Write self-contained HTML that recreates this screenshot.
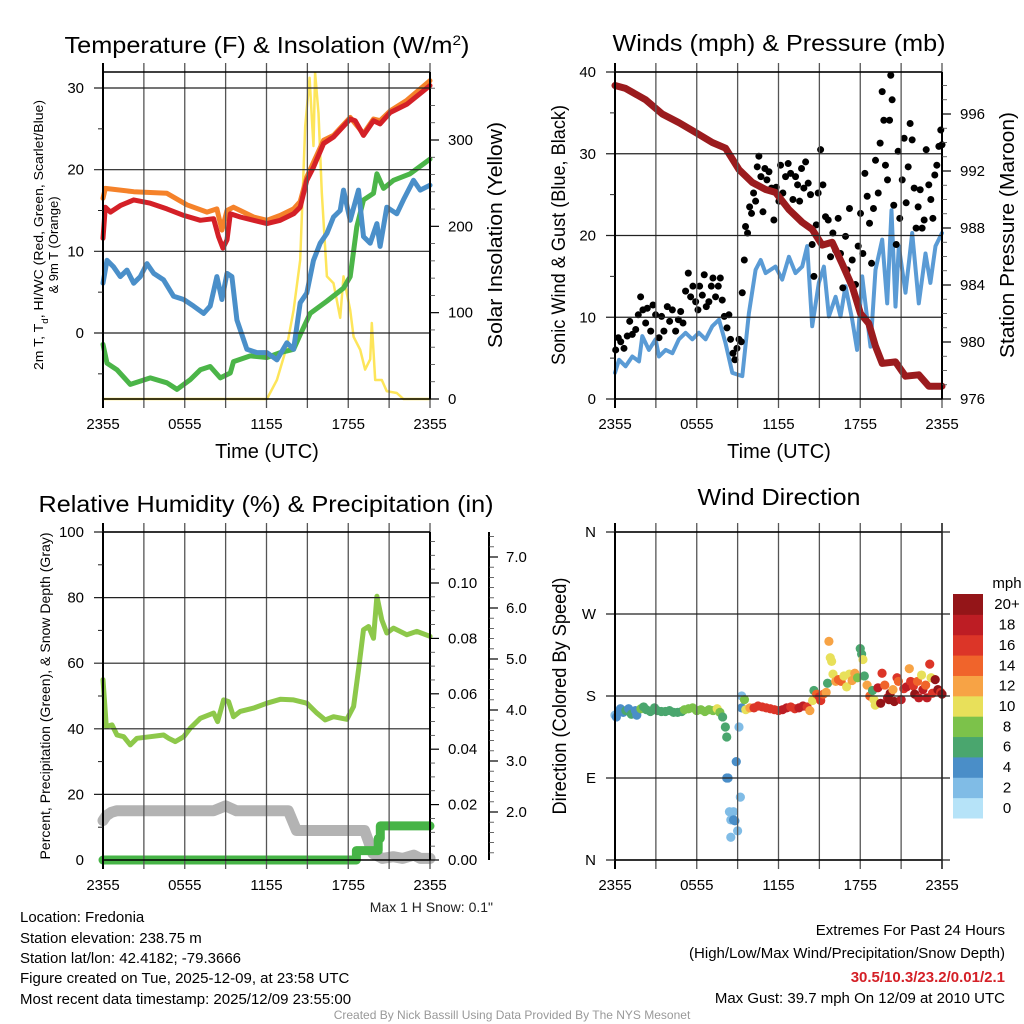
<!DOCTYPE html>
<html><head><meta charset="utf-8"><title>Fredonia Mesonet Meteogram</title>
<style>
html,body{margin:0;padding:0;background:#fff;}
svg{display:block;font-family:"Liberation Sans",Arial,sans-serif;}
</style></head>
<body>
<svg id="chart" xmlns="http://www.w3.org/2000/svg" width="1024" height="1024" viewBox="0 0 1024 1024">
<rect x="0" y="0" width="1024" height="1024" fill="#fff"/>
<g id="marks"></g>
<g id="axes"></g>

<text x="267" y="53" font-size="23" text-anchor="middle" textLength="405" lengthAdjust="spacingAndGlyphs">Temperature (F) &amp; Insolation (W/m<tspan baseline-shift="super" font-size="14">2</tspan>)</text>
<text x="779" y="51" font-size="23" text-anchor="middle" textLength="333" lengthAdjust="spacingAndGlyphs">Winds (mph) &amp; Pressure (mb)</text>
<text x="266" y="512" font-size="23" text-anchor="middle" textLength="455" lengthAdjust="spacingAndGlyphs">Relative Humidity (%) &amp; Precipitation (in)</text>
<text x="779" y="505" font-size="23" text-anchor="middle" textLength="163" lengthAdjust="spacingAndGlyphs">Wind Direction</text>

<text x="267" y="458" font-size="20" text-anchor="middle">Time (UTC)</text>
<text x="779" y="458" font-size="20" text-anchor="middle">Time (UTC)</text>

<text transform="translate(43,235) rotate(-90)" font-size="13" text-anchor="middle" textLength="270" lengthAdjust="spacingAndGlyphs">2m T, T<tspan baseline-shift="sub" font-size="9">d</tspan>, HI/WC (Red, Green, Scarlet/Blue)</text>
<text transform="translate(58,245) rotate(-90)" font-size="13" text-anchor="middle">&amp; 9m T (Orange)</text>
<text transform="translate(502,235) rotate(-90)" font-size="20" text-anchor="middle" textLength="226" lengthAdjust="spacingAndGlyphs">Solar Insolation (Yellow)</text>
<text transform="translate(565,235) rotate(-90)" font-size="19" text-anchor="middle" textLength="260" lengthAdjust="spacingAndGlyphs">Sonic Wind &amp; Gust (Blue, Black)</text>
<text transform="translate(1014,235) rotate(-90)" font-size="20" text-anchor="middle" textLength="246" lengthAdjust="spacingAndGlyphs">Station Pressure (Maroon)</text>
<text transform="translate(50,696) rotate(-90)" font-size="14" text-anchor="middle" textLength="327" lengthAdjust="spacingAndGlyphs">Percent, Precipitation (Green), &amp; Snow Depth (Gray)</text>
<text transform="translate(566,696) rotate(-90)" font-size="19" text-anchor="middle" textLength="237" lengthAdjust="spacingAndGlyphs">Direction (Colored By Speed)</text>

<text x="493" y="912" font-size="14" text-anchor="end" fill="#222">Max 1 H Snow: 0.1"</text>
<g font-size="15" fill="#000">
<text x="20" y="922">Location: Fredonia</text>
<text x="20" y="943">Station elevation: 238.75 m</text>
<text x="20" y="963">Station lat/lon: 42.4182; -79.3666</text>
<text x="20" y="983">Figure created on Tue, 2025-12-09, at 23:58 UTC</text>
<text x="20" y="1004">Most recent data timestamp: 2025/12/09 23:55:00</text>
</g>
<g font-size="15" text-anchor="end">
<text x="1005" y="935">Extremes For Past 24 Hours</text>
<text x="1005" y="958">(High/Low/Max Wind/Precipitation/Snow Depth)</text>
<text x="1005" y="982" fill="#d42027" font-weight="bold">30.5/10.3/23.2/0.01/2.1</text>
<text x="1005" y="1003">Max Gust: 39.7 mph On 12/09 at 2010 UTC</text>
</g>
<text x="512" y="1019" font-size="12" fill="#999" text-anchor="middle">Created By Nick Bassill Using Data Provided By The NYS Mesonet</text>
</svg>
<script>
// ---------- DATA (hours since 2355 UTC) ----------
const xTickLabels = ["2355","0555","1155","1755","2355"];
const tempTicks = [0,10,20,30];
const insolTicks = [0,100,200,300];
const windTicks = [0,10,20,30,40];
const presTicks = [976,980,984,988,992,996];
const rhTicks = [0,20,40,60,80,100];
const precipTicks = [0.00,0.02,0.04,0.06,0.08,0.10];
const snowTicks = [2.0,3.0,4.0,5.0,6.0,7.0];
const dirTicks = [0,90,180,270,360];
const dirTickLabels = ["N","E","S","W","N"];

const tHours = [0,0.17,0.54,1.27,2.25,3.47,4.69,5.92,7.14,8.12,8.48,8.8,9.1,9.34,10.07,11.05,12.03,13.01,13.99,14.47,14.96,15.45,16.19,16.92,18.14,18.51,19.12,19.85,20.34,21.08,22.3,24];
const tempRed = [11.6,15.4,14.8,15.6,16.3,15.9,15.2,14.4,13.8,14,11.8,10.4,11.4,14.6,14.2,13.8,13.4,13.8,14.6,15.4,18.7,20.3,23.2,24,26.2,26,24.2,26,25.6,27,28,30.3];
const oHours = [0,0.17,2.25,4.69,6.16,7.63,8.36,8.73,9.1,9.58,11.05,12.03,13.01,13.99,14.47,14.96,15.45,16.19,16.92,18.14,19.12,19.85,20.34,21.08,22.3,24];
const temp9m = [16.5,17.7,17.3,17.1,15.7,14.8,15.2,12.6,15,15.4,14.2,13.8,14.4,15.2,16.1,19.1,20.9,23.6,24.2,26.4,24.4,26.2,26,27.2,28.5,30.9];
const dHours = [0,0.29,0.78,1.27,1.76,2.25,2.74,3.23,3.72,4.45,5.18,5.92,6.65,7.38,7.87,8.36,8.73,9.1,9.46,9.83,10.56,11.3,12.03,12.76,13.5,13.99,14.47,14.96,15.45,15.94,16.43,16.92,17.41,17.65,18.14,18.75,19.12,19.61,20.1,20.34,20.83,21.56,22.05,22.79,23.28,24];
const dewpoint = [6.1,8.9,8.1,6.9,7.7,6.1,6.9,8.5,7.3,6.5,4.5,4.1,3.3,2.4,3.3,6.9,4.1,7.3,6.9,1.6,-2,-2.4,-2.4,-3.3,-1.2,-2,3.7,4.9,8.9,11,12.2,14.2,15,17.5,13.8,17.5,11.8,11,13.4,10.6,15.4,14.6,16.3,18.7,17.5,18.1];
const wcHours = [0,0.29,1.03,2.0,3.47,4.69,5.43,6.41,7.14,7.87,8.61,9.34,9.58,10.81,12.03,13.01,13.99,14.47,15.21,16.43,17.65,18.14,18.63,19.12,19.85,20.1,20.59,21.32,22.54,24];
const windChill = [-1.4,-3.7,-4.5,-6.3,-5.5,-6.1,-6.9,-5.7,-4.5,-4.1,-5.5,-4.9,-3.5,-2.8,-3,-2.4,-2,-0.2,2.4,3.9,5.5,6.9,13,16.3,17.1,19.5,17.7,18.7,19.5,21.3];
const sHours = [0,12.03,12.76,13.5,13.99,14.47,14.84,15.16,15.33,15.45,15.57,15.82,16.06,16.43,16.92,17.41,17.65,18.14,18.39,18.88,19.24,19.61,19.73,19.98,20.46,20.83,21.56,22.05,24];
const insolation = [0,0,22,61,103,161,316,372,324,293,378,331,239,142,134,94,142,103,72,57,34,46,88,22,22,9,7,0,0];

const pHours = [0,0.78,2.25,3.47,4.69,5.92,7.14,8.12,9.1,10.07,11.05,11.78,12.76,13.74,14.47,15.21,15.94,16.67,17.41,18.02,18.63,19.12,19.61,20.59,21.32,22.3,23.03,24];
const pressure = [998.0,997.8,997.0,996.0,995.4,994.7,994,993.6,992.1,991.2,990.7,990.5,989.3,988.4,987.9,986.8,987,985.5,983.9,982,981.3,979.7,978.5,978.6,977.6,977.7,976.9,976.9];
const wHours = [0,0.29,0.78,1.27,1.76,2.0,2.49,2.98,3.23,3.72,4.21,4.69,5.18,5.67,6.16,6.65,7.14,7.63,8.12,8.61,9.34,9.83,10.32,10.69,11.05,11.78,12.27,12.76,13.25,13.74,14.11,14.47,14.96,15.33,15.7,16.19,16.55,16.92,17.41,17.77,18.14,18.75,19.12,19.61,19.98,20.29,20.59,20.83,21.32,21.81,22.3,22.79,23.15,23.52,24];
const windSpeed = [3.2,4.8,4,5.2,4.6,7.7,6,7.3,5.2,6,5.6,7.3,8.1,7.3,8.1,7.3,8.9,9.7,6.8,3.2,2.8,10.5,15.8,17,15.4,16.2,14.6,17.4,15.4,16.2,18.7,8.9,14.2,16.2,10.1,12.5,10.1,13.8,9.7,6,15,6.4,15.8,19.5,11.7,23.1,11.3,18.7,13,20.3,11.7,17.8,14.2,18.7,20.3];
const gHours = [0.05,0.24,0.42,0.66,0.9,1.08,1.27,1.52,1.71,1.88,2.05,2.25,2.37,2.62,2.79,2.98,3.23,3.42,3.59,3.84,4.01,4.21,4.45,4.65,4.82,4.99,5.18,5.38,5.55,5.72,5.92,6.09,6.21,6.41,6.55,6.7,6.89,7.07,7.19,7.38,7.58,7.73,7.87,8.02,8.22,8.36,8.48,8.66,8.8,8.95,9.1,9.27,9.34,9.49,9.58,9.73,9.88,10.02,10.17,10.32,10.44,10.56,10.71,10.86,11,11.15,11.3,11.49,11.66,11.83,12.03,12.15,12.32,12.52,12.71,12.89,13.06,13.25,13.4,13.55,13.69,13.86,13.99,14.18,14.35,14.47,14.6,14.77,14.91,15.09,15.26,15.45,15.65,15.82,15.99,16.19,16.38,16.55,16.72,16.92,17.04,17.21,17.41,17.65,17.85,18.02,18.19,18.34,18.51,18.68,18.83,18.97,19.12,19.32,19.46,19.61,19.73,19.85,20,20.15,20.24,20.34,20.46,20.64,20.78,20.9,21.08,21.22,21.37,21.52,21.66,21.81,21.96,22.1,22.25,22.4,22.54,22.69,22.84,23.03,23.18,23.33,23.47,23.62,23.77,23.91,24];
const gusts = [6.0,7.5,7,6.2,7.7,9.5,7.9,8.5,10.3,12.5,10.9,9.3,11.1,8.3,11.5,10.3,7.5,10.1,8.3,11.3,9.5,10.9,8.3,9.7,10.7,9.3,13.2,15.4,12.5,13.8,11.9,10.9,13.8,12.7,15.2,11.3,11.9,13.8,14.8,12.5,13.8,14.8,12.1,10.1,8.7,10.3,7.3,5.6,4.8,6.2,7.3,7.0,13,17,21.1,20.3,23.5,22.7,25.2,24.2,28.4,29.7,27.2,22.9,28.2,26.8,27.8,25.8,21.9,25.9,24.2,28.6,25.2,27.2,28.8,27.6,24.4,27.2,26.2,24.2,28.2,25.8,29,26.4,25,18.9,15,21.3,25.2,30.5,26.2,22.3,21.9,17.4,20.3,18.2,22.1,17.8,13.6,19.9,15.8,23.3,17,14,18.7,22.7,17.8,27.6,24.8,21.5,16.6,23.3,29.2,25.2,31.3,37.6,34.1,28.6,26.8,34.1,39.6,36.6,23.7,18.9,30.3,22.1,26.8,31.9,24,28.4,33.7,31.7,25.8,20.9,23.5,25.6,20.9,21.9,30.5,26.2,24.4,22.1,27.4,28.6,30.9,32.9,31.1];

const rhHours = [0,0.24,0.66,1.03,1.52,2.0,2.49,3.47,4.45,4.82,5.31,5.92,6.41,7.14,8.12,8.41,8.85,9.22,9.58,10.07,11.05,12.03,13.01,13.99,14.96,15.7,16.31,16.92,17.9,18.39,18.75,19.12,19.49,19.85,20.1,20.46,20.83,21.32,22.3,23.03,24];
const humidity = [55,40.7,41.2,38.1,37.6,35.1,37.1,37.6,38.1,37.1,36.1,37.6,40.2,43.2,44.8,42.2,48.8,48.3,43.7,45.3,46.3,47.8,49,48.8,47.8,44.8,42.7,43.7,42.9,46.8,58,70.2,71.2,67.6,80.4,73.2,69.2,70.7,68.7,69.7,68.2];
const snowHours = [0,0.24,0.6,1.0,8.1,9.0,9.8,13.6,14.2,19.2,19.8,20.5,21.3,22.0,22.8,23.3,24];
const snowDepthPct = [12,13.5,14.5,15,15,16.5,15,15,9,9,2,0.5,1,0.5,1.5,0.5,0.5];
const prHours = [0,18.6,18.6,20.2,20.2,20.35,20.35,24];
const precip = [0,0,0.0034,0.0034,0.0078,0.0078,0.0123,0.0123];

const dirHours = [0,0.1,0.25,0.4,0.6,0.8,1.0,1.2,1.5,1.6,1.9,2.1,2.3,2.6,2.9,3.1,3.4,3.7,4.0,4.3,4.6,4.9,5.1,5.4,5.7,6.0,6.3,6.6,6.9,7.2,7.5,7.7,7.9,8.1,8.2,8.2,8.3,8.4,8.5,8.5,8.7,8.7,8.8,8.9,9.0,9.1,9.2,9.3,9.3,9.5,9.6,9.9,10.2,10.5,10.8,11.1,11.4,11.7,12.0,12.3,12.6,12.9,13.2,13.5,13.8,14.1,14.3,14.5,14.6,14.8,15.0,15.1,15.3,15.5,15.6,15.7,15.8,15.9,16.0,16.2,16.4,16.6,16.8,17.0,17.2,17.4,17.6,17.8,18.0,18.1,18.2,18.3,18.5,18.7,18.9,19.0,19.1,19.3,19.5,19.6,19.8,20.0,20.1,20.2,20.4,20.5,20.7,20.8,21.0,21.2,21.4,21.6,21.7,21.9,22.0,22.2,22.3,22.5,22.6,22.8,22.9,23.1,23.2,23.3,23.5,23.7,23.9,24.0];
const dirDeg = [159,157,163,166,162,164,166,160,164,159,166,168,165,163,167,164,163,163,164,162,162,163,165,166,167,164,165,163,165,164,166,162,157,146,135,90,90,53,44,25,53,44,43,108,32,146,69,180,167,176,165,167,167,169,168,167,166,165,164,165,167,168,166,167,169,168,164,175,186,182,179,175,182,184,194,240,222,218,204,196,198,196,202,190,204,197,205,200,232,226,220,202,192,180,186,176,170,189,172,205,192,178,176,183,187,174,200,196,176,188,190,210,196,191,182,196,178,203,187,192,178,215,200,183,198,187,184,182];
const dirSpeed = [3,4,4,4,4,6,4,6,4,4,8,6,6,6,6,6,6,6,6,6,6,6,8,8,8,8,8,8,8,8,10,8,6,6,6,4,4,2,2,2,2,4,4,4,2,2,2,2,4,8,10,12,16,16,16,16,16,16,16,18,18,16,16,18,18,16,12,10,6,14,16,16,14,12,6,12,10,10,10,12,14,14,10,10,10,12,12,8,6,6,10,6,12,14,6,10,10,18,20,16,14,18,20,20,12,20,16,14,18,16,18,12,16,16,20,14,18,10,18,14,18,16,10,16,20,20,16,20];
const speedBinLabels = ["0","2","4","6","8","10","12","14","16","18","20+"];
const speedBinColors = ["#b6e3f8","#80bce6","#4a8ec8","#4aa66e","#7cc24a","#e8e05a","#f7a345","#f0642b","#dc3528","#bd1d24","#941518"];

// ---------- LAYOUT ----------
const NS = "http://www.w3.org/2000/svg";
const marks = document.getElementById("marks");
const axes = document.getElementById("axes");
const P1 = {x0:103,x1:430,y0:72,y1:399};
const P2 = {x0:615,x1:942,y0:72,y1:399};
const P3 = {x0:103,x1:430,y0:532,y1:860};
const P4 = {x0:615,x1:942,y0:532,y1:860};
function mk(tag, parent, a){ const e=document.createElementNS(NS,tag); for(const k in a) e.setAttribute(k,a[k]); parent.appendChild(e); return e; }
function xs(p){ return h => p.x0 + h*(p.x1-p.x0)/24; }
function lin(d0,d1,r0,r1){ return v => r0 + (v-d0)*(r1-r0)/(d1-d0); }
const yTemp = lin(0,30,333,88);
const yInsol = lin(0,300,399,140);
const yWind = lin(0,40,399,72);
const yPres = lin(976,996,399,114);
const yRH = lin(0,100,860,532);
const yPrecip = lin(0,0.10,860,583);
const ySnow = lin(2,7,812,557);
const yDir = lin(0,360,860,532);

function frame(p, name, hVals, yScale, extendRight){
  const X = xs(p);
  for(let h=0; h<=24; h+=3){
    const l = mk("line", axes, {x1:X(h),x2:X(h),y1:p.y0-9,y2:p.y1+9,stroke:(h===0?"#000":"#555"),"stroke-width":(h===0?2:1.3)});
    
    
  }
  hVals.forEach(v=>{
    const y = yScale(v);
    const l = mk("line", axes, {x1:p.x0-9,x2:p.x1+(extendRight||0),y1:y,y2:y,stroke:"#222","stroke-width":1.2});
    
    
  });
  const t = mk("line", axes, {x1:p.x0,x2:p.x1,y1:p.y0,y2:p.y0,stroke:"#000","stroke-width":1.5});
  
  
  const b = mk("line", axes, {x1:p.x0,x2:p.x1,y1:p.y1,y2:p.y1,stroke:"#000","stroke-width":1.5});
  
  
  const lb = mk("line", axes, {x1:p.x0,x2:p.x0,y1:p.y0,y2:p.y1,stroke:"#000","stroke-width":2});
  
  
  xTickLabels.forEach((s,i)=>{
    const tx = mk("text", axes, {x:X(i*6),y:p.y1+30,"font-size":15,"text-anchor":"middle"});
    tx.textContent = s;
    
    
  });
}
function leftLabels(p, name, vals, yScale, labels){
  vals.forEach((v,i)=>{
    const tx = mk("text", axes, {x:p.x0-19,y:yScale(v)+5,"font-size":15,"text-anchor":"end"});
    tx.textContent = labels ? labels[i] : String(v);
    
    
  });
}
function minorLeft(p, name, vals, yScale){
  vals.forEach(v=>{
    const l = mk("line", axes, {x1:p.x0-5,x2:p.x0,y1:yScale(v),y2:yScale(v),stroke:"#222","stroke-width":1});
    
    
  });
}
function rightAxis(x, y0, y1, name, vals, yScale, fmt, minorVals, labelX){
  const a = mk("line", axes, {x1:x,x2:x,y1:y0,y2:y1,stroke:"#000","stroke-width":2});
  
  
  minorVals.forEach(v=>{
    const l = mk("line", axes, {x1:x,x2:x+5,y1:yScale(v),y2:yScale(v),stroke:"#444","stroke-width":0.8});
    
    
  });
  vals.forEach(v=>{
    const y = yScale(v);
    const l = mk("line", axes, {x1:x,x2:x+9,y1:y,y2:y,stroke:"#000","stroke-width":1.2});
    
    
    const tx = mk("text", axes, {x:labelX,y:y+5,"font-size":15});
    tx.textContent = fmt(v);
    
    
  });
}
function polyline(p, hrs, vals, yScale, color, w, name, cap){
  const X = xs(p);
  const pts = [];
  for(let i=0;i<Math.min(hrs.length,vals.length);i++) pts.push(X(hrs[i]).toFixed(1)+","+yScale(vals[i]).toFixed(1));
  const l = mk("polyline", marks, {points:pts.join(" "),fill:"none",stroke:color,"stroke-width":w,"stroke-linejoin":"round","stroke-linecap":cap||"round"});
  
  
  return l;
}

// ---------- PANEL 1 ----------
frame(P1, "temperature", tempTicks, yTemp, 0);
leftLabels(P1, "temperature", tempTicks, yTemp);
minorLeft(P1, "temperature", [-5,5,15,25], yTemp);
rightAxis(P1.x1, P1.y0, P1.y1, "insolation", insolTicks, yInsol, v=>String(v), [20,40,60,80,120,140,160,180,220,240,260,280,320,340,360], 448);
polyline(P1, sHours, insolation, yInsol, "#fde55a", 2.5, "insolation-line");
polyline(P1, wcHours, windChill, yTemp, "#4bb548", 5, "windchill-line");
polyline(P1, dHours, dewpoint, yTemp, "#4a8fc9", 5, "dewpoint-line");
polyline(P1, oHours, temp9m, yTemp, "#f5822a", 5, "temp-9m-line");
polyline(P1, tHours, tempRed, yTemp, "#d42027", 5, "temp-2m-line");

// ---------- PANEL 2 ----------
frame(P2, "winds", windTicks, yWind, 0);
leftLabels(P2, "winds", windTicks, yWind);
minorLeft(P2, "winds", [5,15,25,35], yWind);
rightAxis(P2.x1, P2.y0, P2.y1, "pressure", presTicks, yPres, v=>String(v), [977,978,979,981,982,983,985,986,987,989,990,991,993,994,995,997,998], 960);
polyline(P2, wHours, windSpeed, yWind, "#5a9bd5", 4, "wind-speed-line");
{
  const X = xs(P2);
  for(let i=0;i<Math.min(gHours.length,gusts.length);i++){
    const c = mk("circle", marks, {cx:X(gHours[i]),cy:yWind(gusts[i]),r:3.5,fill:"#000"});
    
    
  }
}
polyline(P2, pHours, pressure, yPres, "#9b1b1e", 7, "pressure-line");

// ---------- PANEL 3 ----------
frame(P3, "humidity", [20,40,60,80,100], yRH, 0);
leftLabels(P3, "humidity", rhTicks, yRH);
minorLeft(P3, "humidity", [10,30,50,70,90], yRH);
rightAxis(P3.x1, P3.y0, P3.y1, "precipitation", precipTicks, yPrecip, v=>v.toFixed(2), [0.005,0.01,0.015,0.025,0.03,0.035,0.045,0.05,0.055,0.065,0.07,0.075,0.085,0.09,0.095,0.105,0.11,0.115], 448);
rightAxis(489, P3.y0, P3.y1, "snow-depth", snowTicks, ySnow, v=>v.toFixed(1), [1.2,1.4,1.6,1.8,2.2,2.4,2.6,2.8,3.2,3.4,3.6,3.8,4.2,4.4,4.6,4.8,5.2,5.4,5.6,5.8,6.2,6.4,6.6,6.8,7.2,7.4], 506);
polyline(P3, snowHours, snowDepthPct, yRH, "#b3b3b3", 11, "snow-depth-line");
polyline(P3, prHours, precip, yPrecip, "#46b446", 9, "precipitation-line");
polyline(P3, rhHours, humidity, yRH, "#8dc84a", 5, "humidity-line");

// ---------- PANEL 4 ----------
frame(P4, "direction", dirTicks, yDir, 8);
leftLabels(P4, "direction", dirTicks, yDir, dirTickLabels);
{
  const rb = mk("line", axes, {x1:P4.x1,x2:P4.x1,y1:P4.y0-9,y2:P4.y1+9,stroke:"#222","stroke-width":1.5});
  
  
  const X = xs(P4);
  for(let i=0;i<Math.min(dirHours.length,dirDeg.length,dirSpeed.length);i++){
    const bin = Math.max(0, Math.min(10, Math.floor(dirSpeed[i]/2)));
    const c = mk("circle", marks, {cx:X(dirHours[i]),cy:yDir(dirDeg[i]),r:4.6,fill:speedBinColors[bin]});
    
    
  }
  const cbTop = 594, cbBot = 818, n = speedBinLabels.length, hgt = (cbBot-cbTop)/n;
  for(let i=0;i<n;i++){
    const y = cbBot - (i+1)*hgt;
    const r = mk("rect", axes, {x:953,y:y,width:30,height:hgt+0.5,fill:speedBinColors[i]});
    
    
    const t = mk("text", axes, {x:1007,y:y+hgt/2+5,"font-size":15,"text-anchor":"middle"});
    t.textContent = speedBinLabels[i];
    
    
  }
  const u = mk("text", axes, {x:1007,y:588,"font-size":15,"text-anchor":"middle"});
  u.textContent = "mph";
  
  
}
</script>
</body></html>
